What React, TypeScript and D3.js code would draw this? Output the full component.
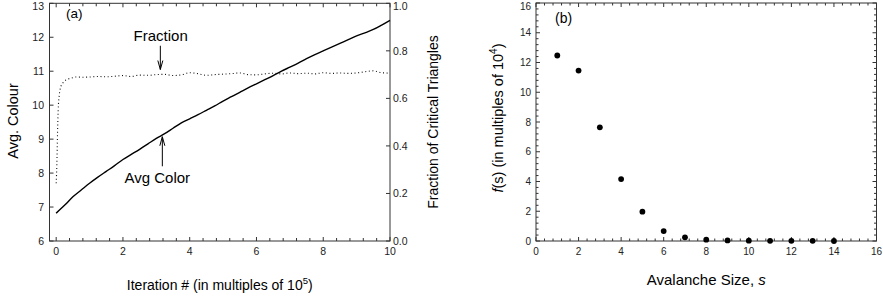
import React from "react";
import * as d3 from "d3";

// panel (a): average colour vs iteration (x in multiples of 1e5)
const colourIter = [
  0, 0.25, 0.5, 0.75, 1, 1.25, 1.5, 1.75, 2, 2.25, 2.5, 2.75, 3, 3.25, 3.5,
  3.75, 4, 4.25, 4.5, 4.75, 5, 5.25, 5.5, 5.75, 6, 6.25, 6.5, 6.75, 7, 7.25,
  7.5, 7.75, 8, 8.25, 8.5, 8.75, 9, 9.25, 9.5, 9.75, 10,
];
const avgColour = [
  6.82, 7.05, 7.3, 7.5, 7.7, 7.88, 8.05, 8.22, 8.4, 8.55, 8.7, 8.86, 9.02,
  9.16, 9.32, 9.48, 9.6, 9.72, 9.85, 9.98, 10.12, 10.25, 10.38, 10.51, 10.63,
  10.75, 10.87, 11.0, 11.12, 11.24, 11.37, 11.49, 11.6, 11.71, 11.82, 11.93,
  12.04, 12.13, 12.23, 12.36, 12.5,
];

// panel (a): fraction of critical triangles
const fracIter = [
  0, 0.02, 0.04, 0.06, 0.09, 0.13, 0.2, 0.3, 0.45, 0.6, 0.8, 1, 1.25, 1.5,
  1.75, 2, 2.25, 2.5, 2.75, 3, 3.25, 3.5, 3.75, 4, 4.25, 4.5, 4.75, 5, 5.25,
  5.5, 5.75, 6, 6.25, 6.5, 6.75, 7, 7.25, 7.5, 7.75, 8, 8.25, 8.5, 8.75, 9,
  9.25, 9.5, 9.75, 10,
];
const fraction = [
  0.243, 0.32, 0.45, 0.55, 0.61, 0.645, 0.665, 0.678, 0.685, 0.69, 0.689,
  0.69, 0.692, 0.691, 0.693, 0.696, 0.692, 0.698, 0.697, 0.7, 0.701, 0.696,
  0.699, 0.708, 0.704, 0.697, 0.7, 0.702, 0.704, 0.707, 0.7, 0.699, 0.703,
  0.706, 0.703, 0.707, 0.704, 0.706, 0.703, 0.708, 0.705, 0.707, 0.705,
  0.707, 0.712, 0.716, 0.708, 0.706,
];

// panel (b): avalanche size distribution
const avalancheSize = [1, 2, 3, 4, 5, 6, 7, 8, 9, 10, 11, 12, 13, 14];
const avalancheFreq = [
  12.47, 11.46, 7.64, 4.16, 1.97, 0.67, 0.25, 0.09, 0.04, 0.02, 0.01, 0.01,
  0.01, 0.0,
];

const xTicksA = [0, 2, 4, 6, 8, 10];
const yTicksA = [6, 7, 8, 9, 10, 11, 12, 13];
const yTicksRight = [0, 0.2, 0.4, 0.6, 0.8, 1.0];
const ticksB = [0, 2, 4, 6, 8, 10, 12, 14, 16];

const font = "'Liberation Sans', Arial, Helvetica, sans-serif";
const ink = "#222";
const frameCol = "#333";

const minor = (lo: number, hi: number, step: number) =>
  d3.range(Math.round((hi - lo) / step) + 1).map((i) => lo + i * step);

const arrow = (x: number, y0: number, y1: number) => {
  const dir = y1 > y0 ? -1 : 1;
  return `M${x},${y0}L${x},${y1}M${x - 2.5},${y1 + dir * 9}L${x},${y1}L${
    x + 2.5
  },${y1 + dir * 9}`;
};

// keep the topmost tick labels inside the picture
const labelY = (y: number) => Math.max(y, 6.5);

const App = () => {
  const W = 883,
    H = 298;

  const xA = d3.scaleLinear().domain([-0.2, 10]).range([49.5, 390]);
  const yA = d3.scaleLinear().domain([6, 13]).range([241, 3.3]);
  const yAR = d3.scaleLinear().domain([0, 1]).range([241, 3.3]);

  const xB = d3.scaleLinear().domain([0, 16]).range([536, 876.5]);
  const yB = d3.scaleLinear().domain([0, 16]).range([241, 3]);

  const colourLine = d3
    .line<number>()
    .x((d, i) => xA(colourIter[i]))
    .y((d) => yA(d))
    .curve(d3.curveMonotoneX);
  const fracLine = d3
    .line<number>()
    .x((d, i) => xA(fracIter[i]))
    .y((d) => yAR(d))
    .curve(d3.curveMonotoneX);

  const [ax0, ax1] = xA.range();
  const [ay0, ay1] = yA.range();
  const [bx0, bx1] = xB.range();
  const [by0, by1] = yB.range();

  const isMajor = (v: number) => Math.abs(v / 2 - Math.round(v / 2)) < 1e-6;

  return (
    <svg
      width={W}
      height={H}
      style={{ position: "absolute", left: 0, top: 0, background: "#fff" }}
      fontFamily={font}
    >
      {/* ---------- panel (a) ---------- */}
      <g stroke={frameCol} strokeWidth={1} fill="none">
        <rect x={ax0} y={ay1} width={ax1 - ax0} height={ay0 - ay1} />
        {minor(0, 10, 0.4).map((v) => (
          <g key={"ax" + v}>
            <line x1={xA(v)} x2={xA(v)} y1={ay0} y2={ay0 - (isMajor(v) ? 4 : 3)} />
            <line x1={xA(v)} x2={xA(v)} y1={ay1} y2={ay1 + (isMajor(v) ? 4 : 3)} />
          </g>
        ))}
        {yTicksA.map((v) => (
          <line key={"ay" + v} x1={ax0} x2={ax0 + 4} y1={yA(v)} y2={yA(v)} />
        ))}
        {yTicksRight.map((v) => (
          <line key={"ar" + v} x1={ax1} x2={ax1 - 4} y1={yAR(v)} y2={yAR(v)} />
        ))}
      </g>
      <g fontSize={10.5} fill={ink}>
        {xTicksA.map((v) => (
          <text key={v} x={xA(v)} y={255} textAnchor="middle">
            {v}
          </text>
        ))}
        {yTicksA.map((v) => (
          <text key={v} x={44} y={labelY(yA(v))} dy="0.35em" textAnchor="end">
            {v}
          </text>
        ))}
        {yTicksRight.map((v) => (
          <text key={v} x={393} y={labelY(yAR(v))} dy="0.35em" textAnchor="start">
            {v.toFixed(1)}
          </text>
        ))}
      </g>
      <path
        d={fracLine(fraction) || ""}
        fill="none"
        stroke="#111"
        strokeWidth={1.1}
        strokeDasharray="1,2.6"
      />
      <path
        d={colourLine(avgColour) || ""}
        fill="none"
        stroke="#000"
        strokeWidth={1.4}
      />
      <g stroke="#000" strokeWidth={1} fill="none">
        <path d={arrow(xA(3.12), yA(11.75), yA(11.05))} />
        <path d={arrow(xA(3.18), yA(8.2), yA(9.07))} />
      </g>
      <g fill="#000">
        <text x={66} y={18} fontSize={13.5}>(a)</text>
        <text x={xA(3.13)} y={41} fontSize={15} textAnchor="middle">
          Fraction
        </text>
        <text x={xA(3.03)} y={183} fontSize={15} textAnchor="middle">
          Avg Color
        </text>
        <text x={(ax0 + ax1) / 2} y={290} fontSize={14} textAnchor="middle">
          Iteration # (in multiples of 10
          <tspan dy={-6} fontSize={9.5}>
            5
          </tspan>
          <tspan dy={6}>)</tspan>
        </text>
        <text
          transform={`translate(18,121) rotate(-90)`}
          fontSize={14.5}
          textAnchor="middle"
        >
          Avg. Colour
        </text>
        <text
          transform={`translate(438,122) rotate(-90)`}
          fontSize={14}
          textAnchor="middle"
        >
          Fraction of Critical Triangles
        </text>
      </g>

      {/* ---------- panel (b) ---------- */}
      <g stroke={frameCol} strokeWidth={1} fill="none">
        <rect x={bx0} y={by1} width={bx1 - bx0} height={by0 - by1} />
        {minor(0, 16, 0.4).map((v) => {
          const len = isMajor(v) ? 4 : 2.5;
          return (
            <g key={"b" + v}>
              <line x1={xB(v)} x2={xB(v)} y1={by0} y2={by0 - len} />
              <line x1={xB(v)} x2={xB(v)} y1={by1} y2={by1 + len} />
              <line x1={bx0} x2={bx0 + len} y1={yB(v)} y2={yB(v)} />
              <line x1={bx1} x2={bx1 - len} y1={yB(v)} y2={yB(v)} />
            </g>
          );
        })}
      </g>
      <g fontSize={10} fill={ink}>
        {ticksB.map((v) => (
          <text key={"bx" + v} x={xB(v)} y={255} textAnchor="middle">
            {v}
          </text>
        ))}
        {ticksB.map((v) => (
          <text key={"by" + v} x={531} y={labelY(yB(v))} dy="0.35em" textAnchor="end">
            {v}
          </text>
        ))}
      </g>
      <g fill="#000">
        {avalancheFreq.map((f, i) => (
          <circle key={i} cx={xB(avalancheSize[i])} cy={yB(f)} r={2.9} />
        ))}
      </g>
      <g fill="#000">
        <text x={555} y={23} fontSize={14}>(b)</text>
        <text x={(bx0 + bx1) / 2} y={285} fontSize={15} textAnchor="middle">
          Avalanche Size, <tspan fontStyle="italic">s</tspan>
        </text>
        <text
          transform={`translate(503,118) rotate(-90)`}
          fontSize={14.5}
          textAnchor="middle"
        >
          <tspan fontStyle="italic">f</tspan>(s) (in multiples of 10
          <tspan dy={-6} fontSize={10}>
            4
          </tspan>
          <tspan dy={6}>)</tspan>
        </text>
      </g>
    </svg>
  );
};

export default App;
